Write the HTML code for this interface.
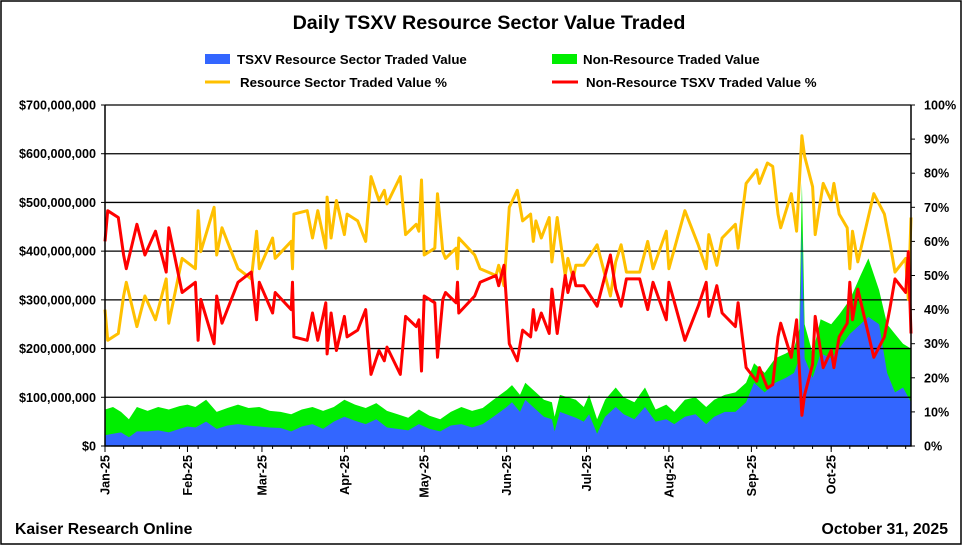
<!DOCTYPE html>
<html><head><meta charset="utf-8">
<style>
html,body{margin:0;padding:0;background:#fff;}
svg{display:block;font-family:"Liberation Sans",Arial,sans-serif;}
</style></head>
<body>
<svg id="chart" width="963" height="546" viewBox="0 0 963 546" xmlns="http://www.w3.org/2000/svg">
<rect x="1" y="1" width="960" height="543" fill="#fff" stroke="#000" stroke-width="1.5"/>
<text x="489" y="29" text-anchor="middle" font-size="19.7" font-weight="bold">Daily TSXV Resource Sector Value Traded</text>
<g font-size="13.3" font-weight="bold">
 <g><rect x="205" y="54" width="25" height="10" fill="#3366ff"/><text x="237" y="64">TSXV Resource Sector Traded Value</text></g>
 <g><rect x="552" y="54" width="25" height="10" fill="#00ee00"/><text x="583" y="64">Non-Resource Traded Value</text></g>
 <g><line x1="205" y1="82" x2="230" y2="82" stroke="#ffc000" stroke-width="3"/><text x="240" y="87">Resource Sector Traded Value %</text></g>
 <g><line x1="552" y1="82" x2="578" y2="82" stroke="#ff0000" stroke-width="3"/><text x="586" y="87">Non-Resource TSXV Traded Value %</text></g>
</g>
<g id="plot"></g>
<text x="15" y="534" font-size="15.8" font-weight="bold">Kaiser Research Online</text>
<text x="948" y="534" text-anchor="end" font-size="15.8" font-weight="bold">October 31, 2025</text>
</svg>
<script>
// ---- data ----
const areaDays = [0,3,6,9,12,16,20,24,28,31,34,38,42,46,50,54,58,62,66,70,74,78,82,86,90,94,98,102,106,110,114,118,122,126,130,134,138,142,146,151,153,156,158,162,165,168,169,171,177,180,182,185,188,192,195,199,203,207,211,214,218,222,226,229,233,237,241,244,248,252,256,259,261,262,263,266,269,273,276,280,284,287,291,294,297,300,303];
const totalValueM = [75,80,70,55,80,72,80,75,82,85,80,95,70,78,85,78,80,72,70,65,75,80,72,80,95,85,78,88,72,65,58,75,62,55,70,80,72,78,95,115,125,105,130,110,95,90,60,105,95,80,105,55,95,120,100,90,120,75,85,70,95,100,80,95,105,110,130,170,150,180,190,200,240,540,250,190,260,250,270,300,350,385,320,250,230,210,200];
const resourceValueM = [22,25,28,18,30,30,32,28,35,40,38,50,35,42,45,42,40,38,37,30,40,45,35,50,60,52,45,55,38,35,32,45,35,30,42,45,38,45,60,80,90,70,95,75,60,55,30,70,58,50,65,25,60,80,65,55,80,50,55,45,60,65,45,60,70,70,90,130,110,130,140,150,180,450,180,140,190,180,200,230,250,265,250,150,110,120,90];
const pctDays = [0,1,5,7,8,12,15,19,23,24,29,34,35,36,41,42,44,50,55,57,58,63,64,70,70.5,71,76,78,80,83,83.5,85,87,90,91,95,98,100,103,105,106,111,113,117,118,119,120,124,125,127,128,132,132.5,133,139,141,147,148,150,152,155,157,160,161,162,164,167,168,170,173,174,176,177,180,185,190,192,194,196,201,204,206,211,212,218,223,226,227,230,232,237,238,241,245,246,249,251,253,254,258,260,262,263,266,267,270,273,274,276,279,280,281,283,289,293,295,297,301,302,303];
const resourcePct = [40,31,33,44,48,35,44,37,49,36,55,52,69,57,70,56,64,52,49,63,52,61,55,60,52,68,69,61,69,58,73,61,72,62,68,66,60,79,72,75,71,79,62,65,63,78,56,58,74,57,55,58,52,61,56,52,50,53,47,70,75,66,68,60,66,61,67,54,67,50,55,49,53,53,59,44,54,59,51,51,60,52,63,52,69,59,52,62,53,61,65,58,77,81,77,83,82,68,64,74,63,91,85,76,62,77,72,77,68,64,52,63,54,74,68,60,51,55,43,67];
const nonResourcePct = [60,69,67,56,52,65,56,63,51,64,45,48,31,43,30,44,36,48,51,37,48,39,45,40,48,32,31,39,31,42,27,39,28,38,32,34,40,21,28,25,29,21,38,35,37,22,44,42,26,43,45,42,48,39,44,48,50,47,53,30,25,34,32,40,34,39,33,46,33,50,45,51,47,47,41,56,46,41,49,49,40,48,37,48,31,41,48,38,47,39,35,42,23,19,23,17,18,32,36,26,37,9,15,24,38,23,28,23,32,36,48,37,46,26,32,40,49,45,57,33];
const yTicksM = [0,100,200,300,400,500,600,700];
const yTickLabels = ["$0","$100,000,000","$200,000,000","$300,000,000","$400,000,000","$500,000,000","$600,000,000","$700,000,000"];
const pctTicks = [0,10,20,30,40,50,60,70,80,90,100];
const monthDays = [0,31,59,90,120,151,181,212,243,273];
const monthLabels = ["Jan-25","Feb-25","Mar-25","Apr-25","May-25","Jun-25","Jul-25","Aug-25","Sep-25","Oct-25"];

// ---- axes ----
const L=105,R=911,T=105,B=446,DMAX=303;
const xS=d=>L+d/DMAX*(R-L);
const yM=v=>B-v/700*(B-T);
const yP=p=>B-p/100*(B-T);
const NS="http://www.w3.org/2000/svg";
const plot=document.getElementById('plot');
function mk(tag,attrs,parent){const e=document.createElementNS(NS,tag);for(const k in attrs)e.setAttribute(k,attrs[k]);(parent||plot).appendChild(e);return e;}

function areaPath(vals){let d=`M${xS(areaDays[0])},${B}`;areaDays.forEach((dd,i)=>{d+=` L${xS(dd).toFixed(1)},${yM(vals[i]).toFixed(1)}`;});d+=` L${xS(areaDays[areaDays.length-1])},${B} Z`;return d;}
const ga=mk('path',{d:areaPath(totalValueM),fill:'#00ee00'});


const ba=mk('path',{d:areaPath(resourceValueM),fill:'#3366ff'});



yTicksM.forEach((v,i)=>{
 if(v>0){const g=mk('line',{x1:L,x2:R,y1:yM(v),y2:yM(v),stroke:'#000','stroke-width':1.3});
 
 }
 const t=mk('text',{x:96,y:yM(v)+4.5,'text-anchor':'end','font-size':12.6,'font-weight':'bold'});
 t.textContent=yTickLabels[i];
 
 
 mk('line',{x1:L-4,x2:L,y1:yM(v),y2:yM(v),stroke:'#000'});
});
pctTicks.forEach(p=>{
 const t=mk('text',{x:924,y:yP(p)+4.5,'font-size':12.6,'font-weight':'bold'});
 t.textContent=p+'%';
 
 
 mk('line',{x1:R,x2:R+4,y1:yP(p),y2:yP(p),stroke:'#000'});
});

function linePath(vals){return pctDays.map((dd,i)=>(i?'L':'M')+xS(dd).toFixed(1)+','+yP(vals[i]).toFixed(1)).join(' ');}
const yl=mk('path',{d:linePath(resourcePct),fill:'none',stroke:'#ffc000','stroke-width':3,'stroke-linejoin':'round'});


const rl=mk('path',{d:linePath(nonResourcePct),fill:'none',stroke:'#ff0000','stroke-width':3,'stroke-linejoin':'round'});



const ax=mk('path',{d:`M${L},${T} L${L},${B} L${R},${B} L${R},${T}`,fill:'none',stroke:'#000','stroke-width':1.5});


for(let d=0;d<=DMAX;d+=7){mk('line',{x1:xS(d),x2:xS(d),y1:B,y2:B+3,stroke:'#000'});}
monthDays.forEach((d,i)=>{
 mk('line',{x1:xS(d),x2:xS(d),y1:B,y2:B+6,stroke:'#000'});
 const t=mk('text',{x:0,y:0,'text-anchor':'end','font-size':12.6,'font-weight':'bold',transform:`translate(${xS(d)+4.5},${B+9}) rotate(-90)`});
 t.textContent=monthLabels[i];
 
 
});
</script>
</body></html>
